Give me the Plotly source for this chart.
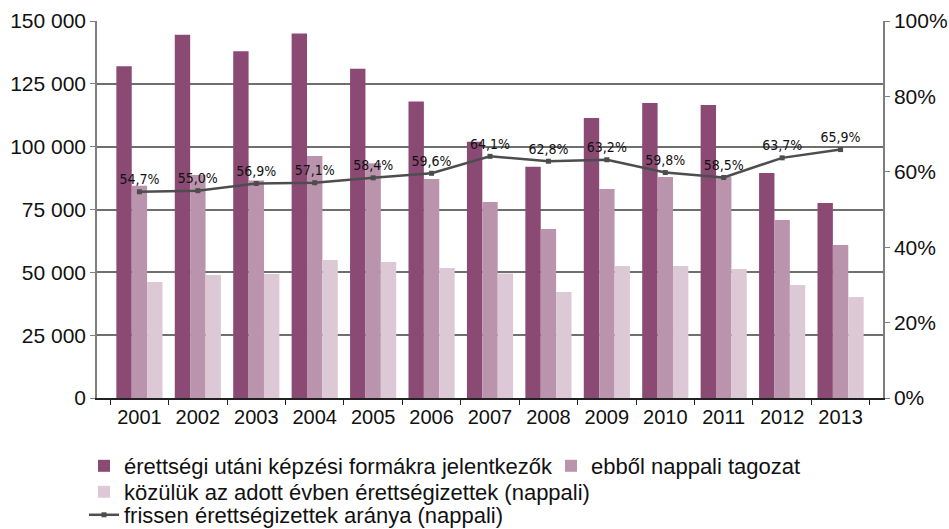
import plotly.graph_objects as go

years = ["2001", "2002", "2003", "2004", "2005", "2006", "2007",
         "2008", "2009", "2010", "2011", "2012", "2013"]
jelentkezok = [132000, 144500, 138000, 145000, 131000, 118000, 102000,
               92000, 111400, 117400, 116600, 89500, 77600]
nappali = [84400, 88700, 86500, 96300, 93400, 87100, 78000,
           67200, 83200, 87900, 88000, 70800, 60900]
erettsegizettek = [46200, 48900, 49300, 54900, 54100, 51700, 49500,
                   42200, 52500, 52500, 51300, 45000, 40200]
arany = [54.7, 55.0, 56.9, 57.1, 58.4, 59.6, 64.1,
         62.8, 63.2, 59.8, 58.5, 63.7, 65.9]

left_ticks = [0, 25000, 50000, 75000, 100000, 125000, 150000]
left_ticktext = ["0", "25 000", "50 000", "75 000", "100 000", "125 000", "150 000"]
right_ticks = [0, 20, 40, 60, 80, 100]
right_ticktext = ["0%", "20%", "40%", "60%", "80%", "100%"]

names = ["érettségi utáni képzési formákra jelentkezők",
         "ebből nappali tagozat",
         "közülük az adott évben érettségizettek (nappali)",
         "frissen érettségizettek aránya (nappali)"]

arany_text = [f"{v:.1f}%".replace(".", ",") for v in arany]

FONT = "Liberation Sans, Arial, Helvetica, sans-serif"
W, H = 949, 529
ML, MR, MT, MB = 97, 66, 21, 131
PW, PH = W - ML - MR, H - MT - MB

fig = go.Figure()
fig.add_trace(go.Bar(x=years, y=jelentkezok, name=names[0], legend="legend",
                     marker=dict(color="#8B4A74", line=dict(width=0))))
fig.add_trace(go.Bar(x=years, y=nappali, name=names[1], legend="legend2",
                     marker=dict(color="#BA93AC", line=dict(width=0))))
fig.add_trace(go.Bar(x=years, y=erettsegizettek, name=names[2], legend="legend3",
                     marker=dict(color="#DCC9D5", line=dict(width=0))))
fig.add_trace(go.Scatter(x=years, y=arany, name=names[3], yaxis="y2", legend="legend4",
                         mode="lines+markers+text",
                         line=dict(color="#4D4D4D", width=2.5),
                         marker=dict(symbol="square", size=5, color="#4D4D4D"),
                         text=arany_text, textposition="top center",
                         textfont=dict(family="Liberation Sans Narrow, DejaVu Sans Condensed, Arial Narrow, sans-serif",
                                       size=14, color="#111111")))


def leg(px_left, py_center):
    return dict(xref="paper", yref="paper",
                x=(px_left - ML) / PW, xanchor="left",
                y=(H - MB - py_center) / PH, yanchor="middle",
                orientation="v", bgcolor="rgba(0,0,0,0)", borderwidth=0,
                font=dict(family=FONT, size=22, color="#111111"))


fig.update_layout(
    width=W, height=H,
    margin=dict(l=ML, r=MR, t=MT, b=MB, autoexpand=False),
    paper_bgcolor="white", plot_bgcolor="white",
    font=dict(family=FONT, size=19, color="#111111"),
    barmode="group", bargap=0.21, bargroupgap=0,
    showlegend=True,
    legend=leg(84, 466),
    legend2=leg(551, 466),
    legend3=leg(84, 492),
    legend4=leg(84, 515),
    xaxis=dict(type="category", showline=True, linecolor="#222222", linewidth=1.5,
               ticks="outside", tickson="boundaries", ticklen=5, tickcolor="#222222",
               showgrid=False, tickfont=dict(size=20), automargin=False),
    yaxis=dict(range=[0, 150000], tickvals=left_ticks, ticktext=left_ticktext,
               showline=True, linecolor="#7F7F7F", linewidth=1.5,
               ticks="outside", ticklen=5, tickcolor="#7F7F7F",
               showgrid=True, gridcolor="#6F6F6F", gridwidth=1.5,
               zeroline=False, tickfont=dict(size=21), automargin=False),
    yaxis2=dict(range=[0, 100], tickvals=right_ticks, ticktext=right_ticktext,
                overlaying="y", side="right",
                showline=True, linecolor="#7F7F7F", linewidth=1.5,
                ticks="outside", ticklen=5, tickcolor="#7F7F7F",
                showgrid=False, zeroline=False, tickfont=dict(size=21),
                automargin=False),
)

fig.write_html("out.html",
               config={"displayModeBar": False},
               post_script="document.body.style.margin='0';"
                           "document.documentElement.style.overflow='hidden';")
